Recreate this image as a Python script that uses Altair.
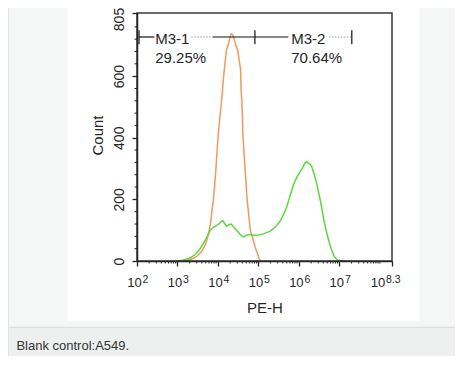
import altair as alt
import pandas as pd

# ---------------- data ----------------
series_names = ["Blank control", "A549"]
series_colors = ["#F29A5C", "#5CD83C"]

# log10(PE-H) positions and counts
blank_x = [3.12, 3.25, 3.38, 3.47, 3.58, 3.66, 3.72, 3.77, 3.81, 3.85, 3.89, 3.95, 4.00,
           4.05, 4.09, 4.14, 4.21, 4.26, 4.30, 4.33, 4.36, 4.40, 4.43, 4.49, 4.56, 4.57,
           4.59, 4.62, 4.67, 4.72, 4.76, 4.80, 4.87, 4.92, 4.98, 5.02, 5.06]
blank_y = [0, 3, 8, 14, 28, 45, 65, 90, 118, 160, 200, 300, 400,
           470, 520, 600, 684, 705, 728, 738, 735, 720, 705, 684, 620, 560,
           520, 400, 300, 200, 150, 100, 68, 45, 22, 7, 0]

sample_x = [3.00, 3.15, 3.30, 3.40, 3.47, 3.55, 3.63, 3.72, 3.80, 3.87, 3.95, 4.02, 4.08,
            4.12, 4.17, 4.21, 4.27, 4.33, 4.40, 4.46, 4.52, 4.58, 4.64, 4.70, 4.77,
            4.83, 4.90, 4.97, 5.04, 5.12, 5.20, 5.28, 5.36, 5.45, 5.53, 5.62, 5.70,
            5.78, 5.86, 5.94, 6.03, 6.10, 6.15, 6.19, 6.23, 6.28, 6.32, 6.38, 6.44,
            6.50, 6.56, 6.62, 6.69, 6.75, 6.81, 6.87, 6.94, 7.00, 7.10, 7.18]
sample_y = [0, 3, 9, 17, 25, 38, 55, 76, 98, 108, 114, 120, 128,
            131, 121, 113, 118, 120, 108, 100, 91, 82, 78, 84, 85,
            85, 83, 84, 85, 88, 92, 96, 104, 115, 128, 150, 176,
            210, 245, 270, 290, 305, 318, 322, 318, 314, 305, 280, 252,
            215, 176, 130, 90, 60, 36, 15, 5, 2, 1, 0]

y_ticks = [0, 200, 400, 600, 805]
y_minor = [v for v in range(40, 805, 40) if v % 200 != 0]
x_tick_exp = [2, 3, 4, 5, 6, 7, 8.3]
x_tick_sup = ["2", "3", "4", "5", "6", "7", "8.3"]
x_minor = [d + m for d in range(2, 8) for m in
           [0.30103, 0.47712, 0.60206, 0.69897, 0.77815, 0.84510, 0.90309, 0.95424]] + [8.0]

gate_names = ["M3-1", "M3-2"]
gate_pct = ["29.25%", "70.64%"]
gate_bounds = [2.05, 4.913, 7.307]
gate_label_x = [2.45, 5.81]
gate_solid = [(2.05, 2.43), (3.87, 5.74)]
gate_dotted = [(3.34, 3.87), (6.74, 7.307)]

caption = "Blank control:A549."
x_title = "PE-H"
y_title = "Count"

# ---------------- layout ----------------
FONT = "Liberation Sans"
W, H = 255, 248
PAD = {"left": 129, "top": 5, "right": 63, "bottom": 95}
INK = "#262626"

xs = alt.Scale(domain=[2, 8.3], nice=False, zero=False)
ys = alt.Scale(domain=[0, 805], nice=False, zero=True)

curves = pd.concat([
    pd.DataFrame({"lx": blank_x, "count": blank_y, "series": series_names[0]}),
    pd.DataFrame({"lx": sample_x, "count": sample_y, "series": series_names[1]}),
])
one = pd.DataFrame({"k": [0]})

# ---------------- decoration (page look) ----------------
left = -PAD["left"]
right = W + PAD["right"]
top = -PAD["top"]
bottom = H + PAD["bottom"]

white_panel = alt.Chart(one).mark_rect(color="white").encode(
    x=alt.value(-69.3), x2=alt.value(282.7), y=alt.value(top), y2=alt.value(308))
caption_bg = alt.Chart(one).mark_rect(color="#eeefef").encode(
    x=alt.value(left), x2=alt.value(right), y=alt.value(314.3), y2=alt.value(bottom))
caption_line = alt.Chart(one).mark_rule(color="#dcdddd", strokeWidth=1).encode(
    x=alt.value(left), x2=alt.value(right), y=alt.value(314.3))
left_border = alt.Chart(one).mark_rule(color="#e2e3e3", strokeWidth=1).encode(
    x=alt.value(left + 0.5), y=alt.value(top), y2=alt.value(bottom))
caption_text = alt.Chart(pd.DataFrame({"t": [caption]})).mark_text(
    font=FONT, fontSize=13, color="#333333", align="left", baseline="alphabetic"
).encode(x=alt.value(-120.6), y=alt.value(336.6), text="t:N")

frame = alt.Chart(one).mark_rect(filled=False, stroke="#3a3a3a", strokeWidth=1.5).encode(
    x=alt.value(0), x2=alt.value(W), y=alt.value(0), y2=alt.value(H))

# ---------------- curves & axes ----------------
lines = alt.Chart(curves).mark_line(strokeWidth=1.5).encode(
    x=alt.X("lx:Q", scale=xs, axis=alt.Axis(
        values=x_tick_exp, labels=False, tickSize=5, tickWidth=1.3, tickColor=INK,
        domainColor=INK, domainWidth=1.5, grid=False, zindex=2,
        title=x_title, titleFont=FONT, titleFontSize=15, titleFontWeight="normal",
        titleColor=INK, titleY=51.7, titleBaseline="alphabetic")),
    y=alt.Y("count:Q", scale=ys, axis=alt.Axis(
        values=y_ticks, labelAngle=270, labelAlign="center", labelBaseline="alphabetic",
        labelFont=FONT, labelFontSize=14, labelColor=INK, labelPadding=9,
        labelOffset={"condition": {"test": "datum.value == 805", "value": 6}, "value": 0},
        tickSize=5, tickWidth=1.3, tickColor=INK, domainColor=INK, domainWidth=1.5,
        grid=False, zindex=2, labelOverlap=False,
        title=y_title, titleFont=FONT, titleFontSize=15, titleFontWeight="normal",
        titleColor=INK, titleAngle=270, titleX=-35, titleY=122, titleBaseline="alphabetic")),
    color=alt.Color("series:N", scale=alt.Scale(domain=series_names, range=series_colors),
                    legend=None),
    order=alt.Order("lx:Q"),
)

ym = alt.Chart(pd.DataFrame({"v": y_minor})).mark_rule(color=INK, strokeWidth=1).encode(
    y=alt.Y("v:Q", scale=ys), x=alt.value(-2.5), x2=alt.value(0))
xm = alt.Chart(pd.DataFrame({"v": x_minor})).mark_rule(color=INK, strokeWidth=1).encode(
    x=alt.X("v:Q", scale=xs), y=alt.value(H), y2=alt.value(H + 2.5))

ticklab = pd.DataFrame({"e": x_tick_exp, "s": x_tick_sup})
short = alt.Chart(ticklab).transform_filter("length(datum.s) == 1")
longl = alt.Chart(ticklab).transform_filter("length(datum.s) > 1")
base_kw = dict(font=FONT, fontSize=13, color=INK, baseline="alphabetic")
sup_kw = dict(font=FONT, fontSize=10.5, color=INK, baseline="alphabetic")
lab_short_base = short.mark_text(align="right", dx=4.7, text="10", **base_kw).encode(
    x=alt.X("e:Q", scale=xs), y=alt.value(H + 25.7))
lab_short_sup = short.mark_text(align="left", dx=5.5, **sup_kw).encode(
    x=alt.X("e:Q", scale=xs), y=alt.value(H + 21.5), text="s:N")
lab_long_base = longl.mark_text(align="right", dx=-6.8, text="10", **base_kw).encode(
    x=alt.X("e:Q", scale=xs), y=alt.value(H + 25.7))
lab_long_sup = longl.mark_text(align="left", dx=-6.0, **sup_kw).encode(
    x=alt.X("e:Q", scale=xs), y=alt.value(H + 21.5), text="s:N")

# ---------------- gate markers ----------------
BAR_Y = 24
solid = alt.Chart(pd.DataFrame({"a": [s[0] for s in gate_solid], "b": [s[1] for s in gate_solid]})
                  ).mark_rule(color="#111111", strokeWidth=1.2).encode(
    x=alt.X("a:Q", scale=xs), x2="b:Q", y=alt.value(BAR_Y))
dotted = alt.Chart(pd.DataFrame({"a": [s[0] for s in gate_dotted], "b": [s[1] for s in gate_dotted]})
                   ).mark_rule(color="#9a9a9a", strokeWidth=1, strokeDash=[1.5, 1.5]).encode(
    x=alt.X("a:Q", scale=xs), x2="b:Q", y=alt.value(BAR_Y))
caps = alt.Chart(pd.DataFrame({"g": gate_bounds})).mark_rule(color="#111111", strokeWidth=1.2).encode(
    x=alt.X("g:Q", scale=xs), y=alt.value(BAR_Y - 6.7), y2=alt.value(BAR_Y + 7.3))
gates = pd.DataFrame({"x": gate_label_x, "name": gate_names, "pct": gate_pct})
gate_name_txt = alt.Chart(gates).mark_text(font=FONT, fontSize=15, color=INK, align="left",
                                           baseline="alphabetic").encode(
    x=alt.X("x:Q", scale=xs), y=alt.value(30.8), text="name:N")
gate_pct_txt = alt.Chart(gates).mark_text(font=FONT, fontSize=15, color=INK, align="left",
                                          baseline="alphabetic").encode(
    x=alt.X("x:Q", scale=xs), y=alt.value(49.8), text="pct:N")

chart = alt.layer(
    white_panel, caption_bg, caption_line, left_border, caption_text,
    lines, frame, ym, xm,
    lab_short_base, lab_short_sup, lab_long_base, lab_long_sup,
    dotted, solid, caps, gate_name_txt, gate_pct_txt,
).properties(
    width=W, height=H, padding=PAD,
    autosize=alt.AutoSizeParams(type="none"),
    background="#f5f6f6",
).configure_view(strokeWidth=0)

chart.save("out.html", embed_options={"renderer": "svg", "actions": False})
